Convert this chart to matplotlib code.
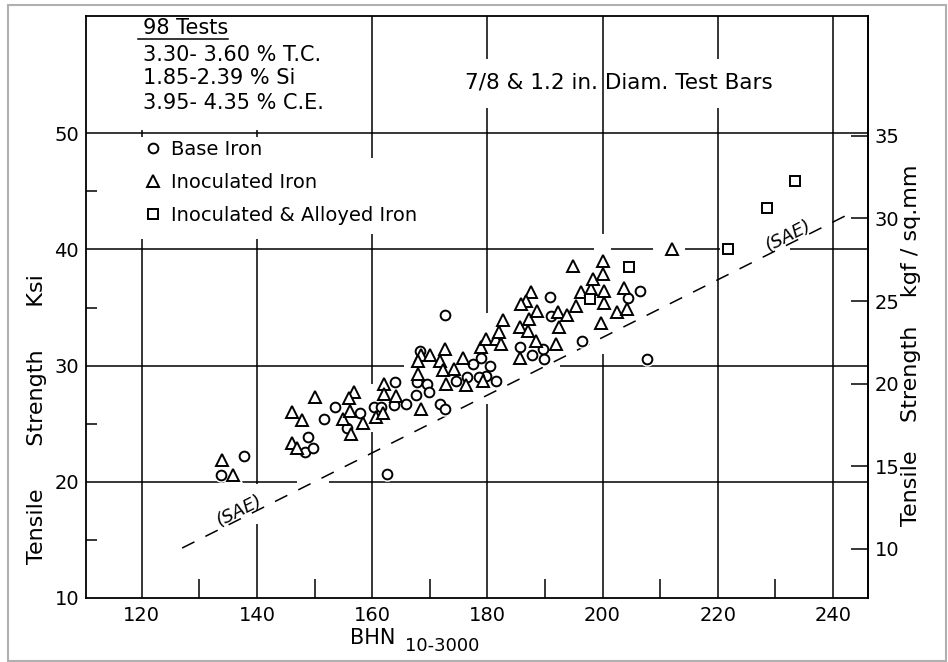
import numpy as np
import matplotlib.pyplot as plt
from matplotlib.patches import Rectangle

# Base iron (circles): Brinell hardness vs tensile strength (ksi)
base_bhn = [133.8, 137.7, 148.8, 148.4, 149.8, 151.7, 153.6, 155.6, 157.8, 160.3,
            161.5, 163.9, 163.8, 165.9, 162.6, 167.7, 169.6, 169.9, 167.6, 168.3,
            171.7, 172.6, 172.6, 174.6, 176.5, 177.5, 178.9, 179.8, 180.4, 181.5,
            185.6, 187.8, 189.6, 189.9, 190.8, 191.1, 196.4, 204.5, 206.5, 207.7,
            178.6]
base_ksi = [20.6, 22.2, 23.9, 22.6, 22.9, 25.4, 26.4, 24.6, 25.9, 26.4,
            26.4, 28.6, 26.6, 26.7, 20.7, 28.6, 28.4, 27.7, 27.5, 31.3,
            26.7, 26.3, 34.4, 28.7, 29.0, 30.1, 30.7, 29.1, 30.0, 28.7,
            31.6, 30.9, 31.4, 30.6, 35.9, 34.3, 32.1, 35.8, 36.4, 30.6,
            29.0]

# Inoculated iron (triangles)
inoc_bhn = [134.0, 135.8, 146.1, 147.8, 150.1, 146.0, 146.9, 155.0, 156.1, 156.4,
            156.8, 155.9, 158.4, 160.7, 161.8, 162.1, 162.1, 164.2, 167.9, 168.5,
            168.5, 168.0, 170.0, 171.7, 172.6, 172.3, 174.2, 172.8, 175.8, 176.3,
            178.9, 179.8, 181.5, 182.4, 182.1, 182.7, 179.2, 185.6, 187.0, 187.3,
            188.7, 187.6, 186.7, 185.8, 185.6, 188.4, 191.9, 192.2, 192.5, 193.9,
            195.4, 196.3, 198.0, 198.3, 194.8, 200.0, 200.0, 200.3, 200.3, 199.7,
            202.6, 204.3, 203.7, 212.0]
inoc_ksi = [21.9, 20.6, 26.0, 25.3, 27.3, 23.3, 22.9, 25.4, 26.1, 24.1,
            27.7, 27.2, 25.1, 25.6, 25.9, 28.4, 27.6, 27.4, 29.3, 26.3,
            30.9, 30.4, 30.9, 30.4, 31.4, 29.6, 29.7, 28.4, 30.7, 28.3,
            31.6, 32.3, 32.3, 31.9, 32.9, 33.9, 28.7, 33.3, 33.0, 34.0,
            34.7, 36.3, 35.6, 35.3, 30.7, 32.1, 31.9, 34.6, 33.3, 34.4,
            35.1, 36.3, 36.6, 37.5, 38.6, 39.0, 37.9, 36.4, 35.4, 33.7,
            34.6, 34.9, 36.7, 40.0]

# Inoculated & alloyed iron (squares)
alloy_bhn = [197.8, 204.6, 221.8, 228.5, 233.5]
alloy_ksi = [35.7, 38.5, 40.0, 43.6, 45.9]

# SAE minimum line
sae_bhn = [127.0, 243.0]
sae_ksi = [14.3, 43.1]

x_grid = [120, 140, 160, 180, 200, 220, 240]
y_grid = [20, 30, 40, 50]
x_minor = [130, 150, 170, 190, 210, 230]
y_minor = [15, 25, 35, 45]
kgf_ticks = [10, 15, 20, 25, 30, 35]
KSI_TO_KGF = 0.70307

# white breaks in the grid lines (x0, x1, y0, y1)
breaks = [
    (110.3, 158.7, 50.3, 60.1),
    (110.3, 155.0, 40.9, 49.7),
    (155.0, 170.5, 41.3, 47.9),
    (178.6, 181.4, 52.2, 56.4),
    (218.6, 221.4, 52.2, 56.4),
    (178.6, 181.4, 26.7, 34.5),
    (198.6, 201.4, 31.0, 41.3),
    (158.6, 161.4, 24.3, 28.4),
    (138.6, 141.4, 16.4, 19.8),
    (165.6, 192.7, 29.6, 30.4),
    (147.0, 152.5, 19.6, 20.4),
    (208.8, 214.3, 39.6, 40.4),
    (220.4, 232.5, 39.6, 40.4),
]

fig = plt.figure(figsize=(9.48, 6.62), dpi=100)
ax = fig.add_axes([0.0907, 0.0967, 0.8249, 0.8792])
ax.set_xlim(110.3, 246.1)
ax.set_ylim(10, 60.1)

for x in x_grid:
    ax.axvline(x, color="black", lw=1.1, zorder=1)
for y in y_grid:
    ax.axhline(y, color="black", lw=1.1, zorder=1)
for x0, x1, y0, y1 in breaks:
    ax.add_patch(Rectangle((x0, y0), x1 - x0, y1 - y0, facecolor="white",
                           edgecolor="none", zorder=1.2))

ax.plot(sae_bhn, sae_ksi, color="black", lw=1.1, linestyle=(0, (9, 8)), zorder=2)

# white halos so markers break the lines like the original drawing
ax.plot(base_bhn, base_ksi, "o", ms=7, mfc="white", mec="white", mew=3.5, zorder=2.5)
ax.plot(inoc_bhn, inoc_ksi, "^", ms=8, mfc="white", mec="white", mew=3.5, zorder=2.5)
ax.plot(alloy_bhn, alloy_ksi, "s", ms=7.5, mfc="white", mec="white", mew=3.5, zorder=2.5)
h1, = ax.plot(base_bhn, base_ksi, "o", ms=7, mfc="white", mec="black", mew=1.4,
              zorder=3, label="Base Iron")
h2, = ax.plot(inoc_bhn, inoc_ksi, "^", ms=8, mfc="white", mec="black", mew=1.4,
              zorder=3, label="Inoculated Iron")
h3, = ax.plot(alloy_bhn, alloy_ksi, "s", ms=7.5, mfc="white", mec="black", mew=1.4,
              zorder=3, label="Inoculated & Alloyed Iron")

leg = ax.legend(handles=[h1, h2, h3], loc="upper left", bbox_to_anchor=(0.074, 0.787),
                frameon=False, fontsize=14, handlelength=0.95, handletextpad=0.45,
                labelspacing=0.72, borderpad=0, borderaxespad=0, markerscale=1.0)
leg.set_zorder(5)

# notes
ax.text(120.2, 59.1, "98 Tests", fontsize=15, va="center", ha="left", zorder=5)
ax.plot([119.3, 134.9], [58.1, 58.1], color="black", lw=1.1, zorder=5)
ax.text(120.2, 56.7, "3.30- 3.60 % T.C.", fontsize=15, va="center", ha="left", zorder=5)
ax.text(120.2, 54.75, "1.85-2.39 % Si", fontsize=15, va="center", ha="left", zorder=5)
ax.text(120.2, 52.6, "3.95- 4.35 % C.E.", fontsize=15, va="center", ha="left", zorder=5)
ax.text(202.9, 54.4, "7/8 & 1.2 in. Diam. Test Bars", fontsize=15.5, va="center",
        ha="center", zorder=5)
ax.text(137.0, 17.5, "(SAE)", fontsize=13, style="italic", rotation=27,
        ha="center", va="center", zorder=5)
ax.text(232.2, 41.2, "(SAE)", fontsize=13, style="italic", rotation=27,
        ha="center", va="center", zorder=5)

# ticks
ax.set_xticks(x_grid)
ax.set_xticks(x_minor, minor=True)
ax.set_yticks([10] + y_grid)
ax.set_yticks(y_minor, minor=True)
ax.tick_params(which="major", length=0, labelsize=14)
ax.tick_params(axis="x", which="major", pad=6)
ax.tick_params(axis="y", which="major", pad=5)
ax.tick_params(axis="x", which="minor", direction="in", length=14, width=1.1)
ax.tick_params(axis="y", which="minor", direction="in", length=8, width=1.1)
for s in ax.spines.values():
    s.set_linewidth(1.3)

sec = ax.secondary_yaxis("right", functions=(lambda v: v * KSI_TO_KGF,
                                             lambda v: v / KSI_TO_KGF))
sec.set_yticks(kgf_ticks)
sec.tick_params(direction="in", length=12, width=1.1, labelsize=14, pad=5)
sec.spines["right"].set_linewidth(1.3)

fig.text(0.039, 0.367, "Tensile      Strength      Ksi", rotation=90, fontsize=16,
         ha="center", va="center")
fig.text(0.961, 0.479, "Tensile    Strength    kgf / sq.mm", rotation=90, fontsize=16,
         ha="center", va="center")
fig.text(0.393, 0.036, "BHN", fontsize=15, ha="center", va="center")
fig.text(0.427, 0.024, "10-3000", fontsize=13, ha="left", va="center")

fig.patches.append(Rectangle((0.0084, 0.0015), 0.989, 0.991, transform=fig.transFigure,
                             fill=False, edgecolor="#b0b0b0", lw=1.5))

fig.savefig("out.png", dpi=100)
